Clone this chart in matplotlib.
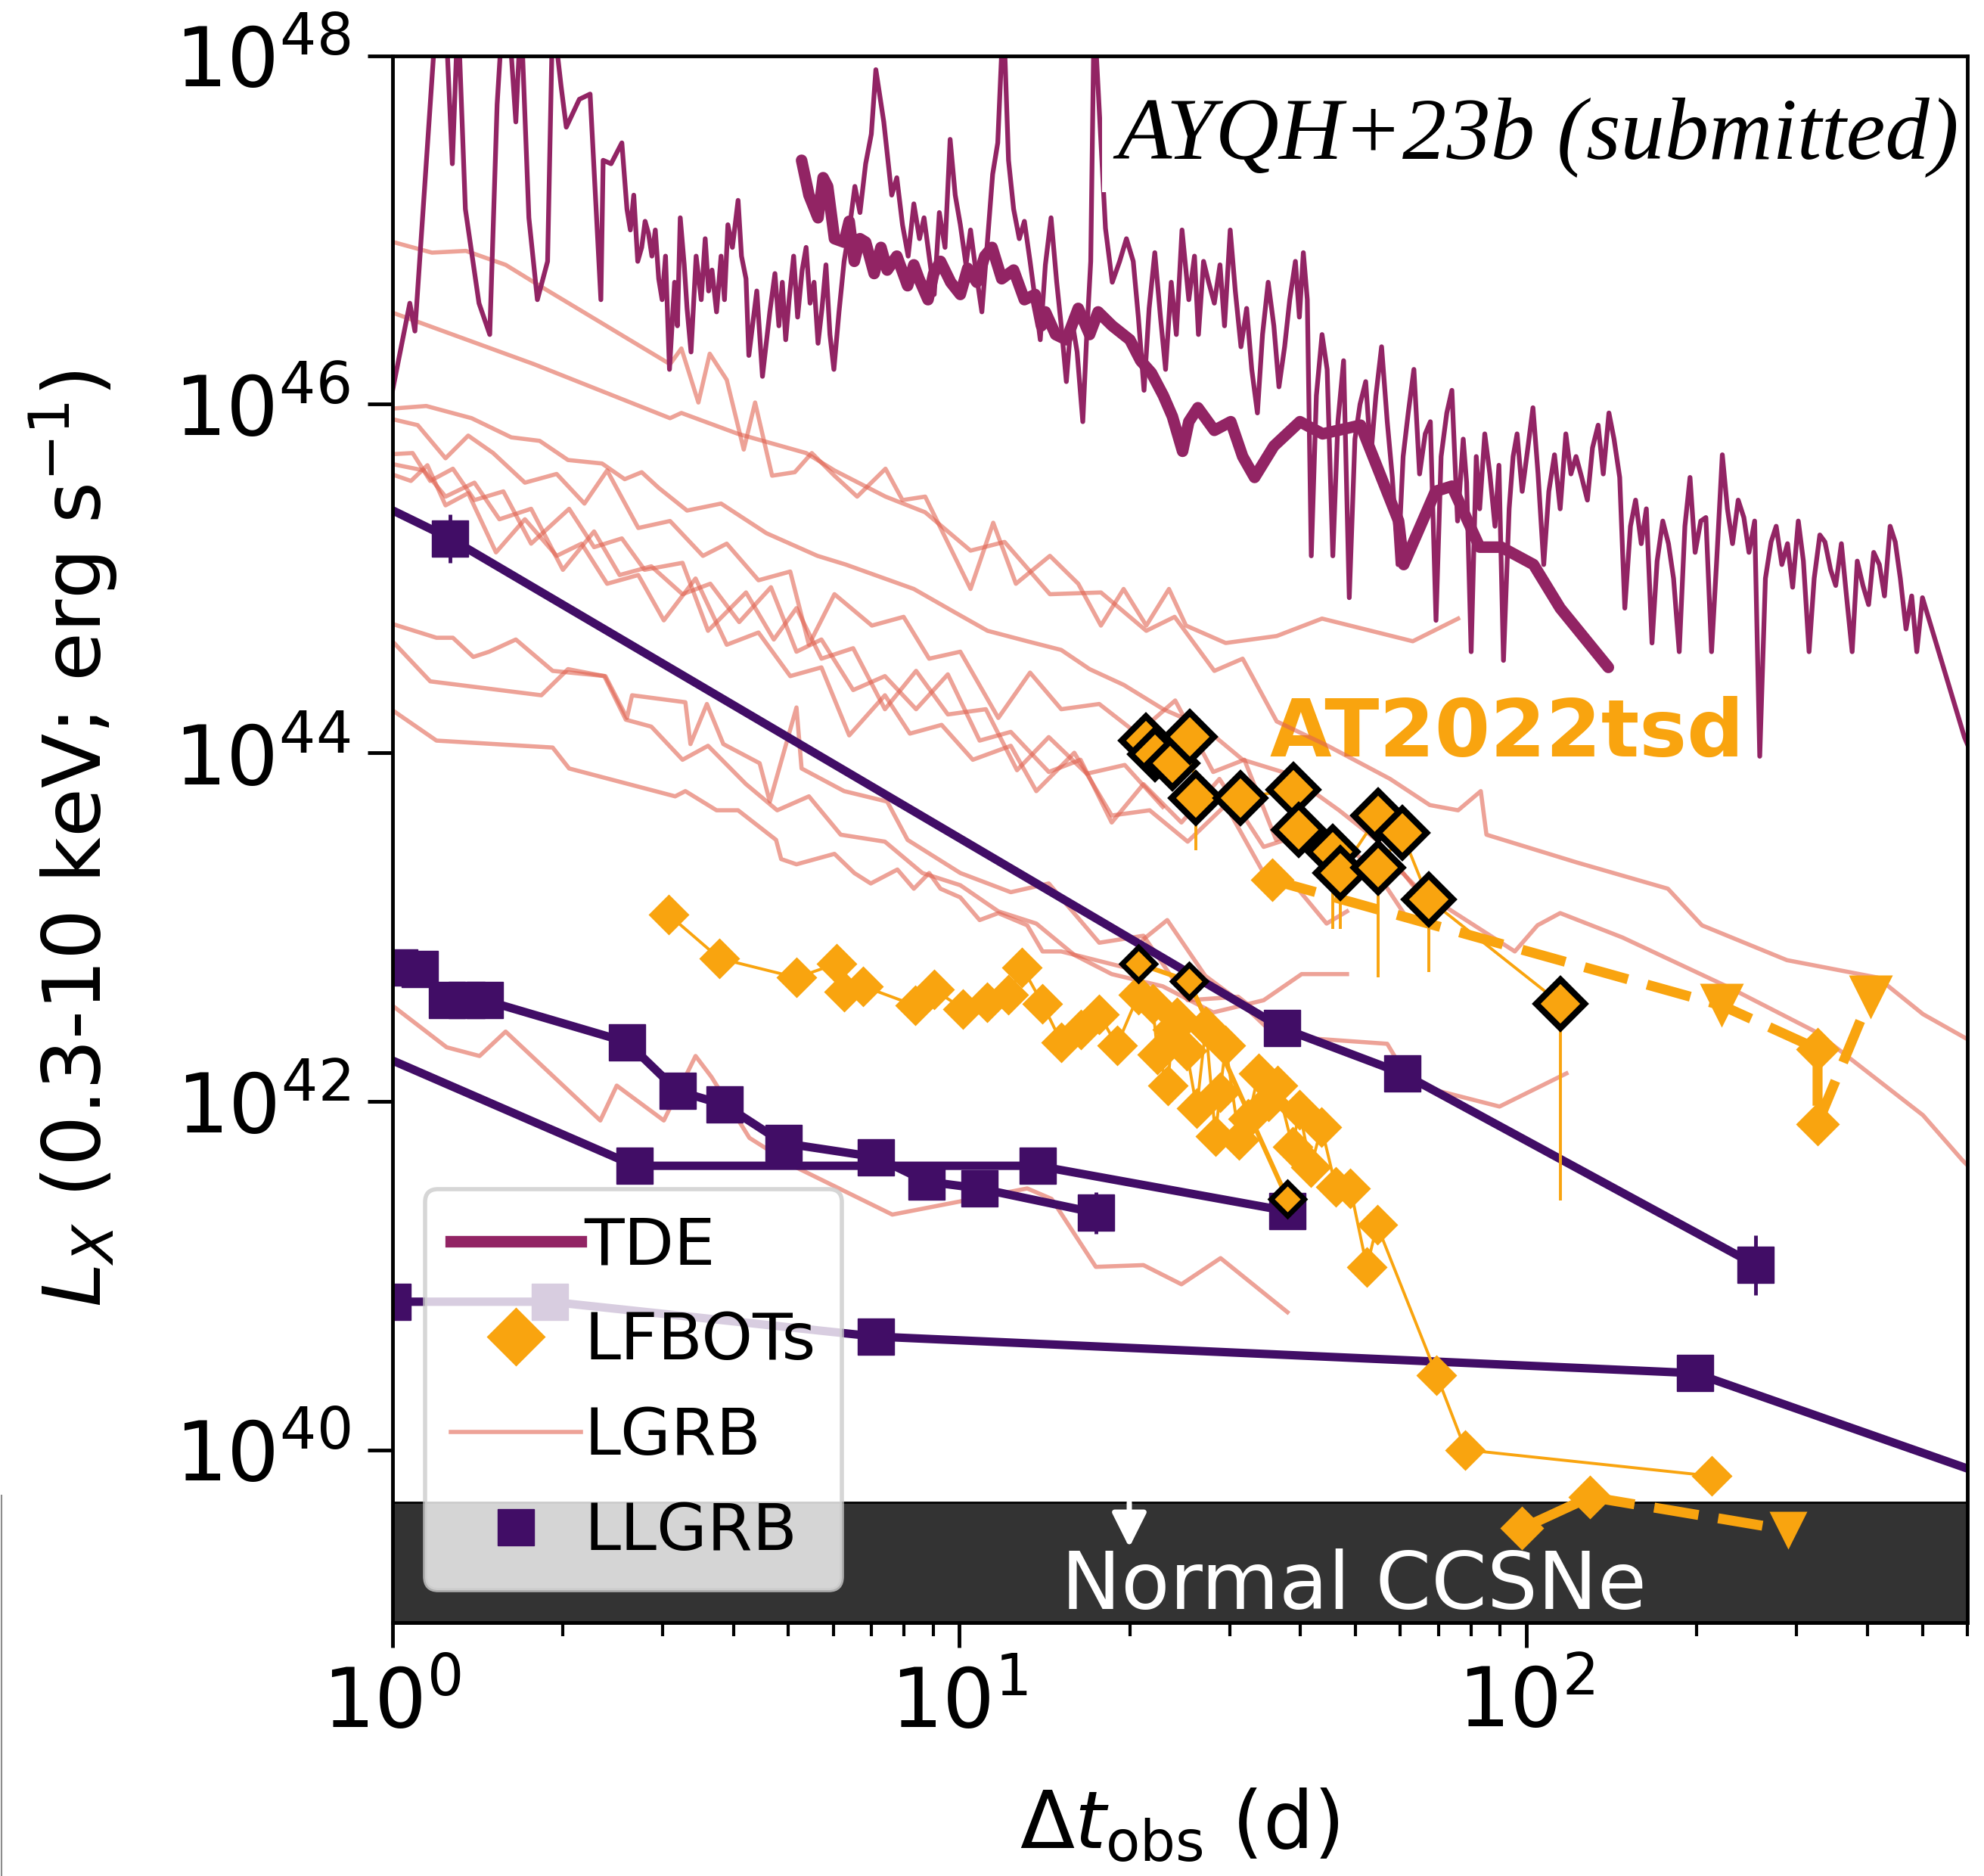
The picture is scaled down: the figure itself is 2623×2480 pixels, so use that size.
import numpy as np
import matplotlib.pyplot as plt
from matplotlib.lines import Line2D
from matplotlib.ticker import NullLocator

# colours for each transient class
c_tde = "#922464"
c_lfbot = "#f9a40f"
c_lgrb = "#e16452"
c_llgrb = "#410d66"

# ---- TDE (log10 days, log10 erg/s) ----
tde_logt = [-0.03, 0.000, 0.031, 0.040, 0.078, 0.094, 0.106, 0.116, 0.129, 0.153, 0.172, 0.185, 0.195, 0.205,
            0.218, 0.227, 0.241, 0.256, 0.274, 0.283, 0.298, 0.307, 0.330, 0.349, 0.368, 0.372, 0.386, 0.405,
            0.414, 0.420, 0.426, 0.433, 0.440, 0.446, 0.452, 0.458, 0.464, 0.470, 0.476, 0.482, 0.489, 0.498,
            0.503, 0.508, 0.515, 0.520, 0.527, 0.536, 0.545, 0.552, 0.558, 0.564, 0.572, 0.580, 0.586, 0.592,
            0.600, 0.610, 0.616, 0.624, 0.629, 0.643, 0.653, 0.666, 0.675, 0.682, 0.688, 0.694, 0.700, 0.708,
            0.715, 0.723, 0.730, 0.737, 0.744, 0.751, 0.758, 0.765, 0.772, 0.779, 0.788, 0.797, 0.806, 0.816,
            0.825, 0.835, 0.845, 0.853, 0.867, 0.881, 0.890, 0.900, 0.910, 0.920, 0.930, 0.938, 0.947, 0.956,
            0.965, 0.975, 0.984, 0.993, 1.002, 1.012, 1.020, 1.030, 1.040, 1.049, 1.059, 1.068, 1.078, 1.087,
            1.096, 1.106, 1.115, 1.125, 1.134, 1.143, 1.152, 1.162, 1.172, 1.180, 1.189, 1.198, 1.208, 1.218,
            1.225, 1.232, 1.238, 1.258, 1.270, 1.283, 1.295, 1.307, 1.316, 1.326, 1.335, 1.345, 1.355, 1.364,
            1.374, 1.383, 1.393, 1.405, 1.415, 1.422, 1.431, 1.440, 1.450, 1.460, 1.468, 1.478, 1.487, 1.497,
            1.507, 1.516, 1.526, 1.535, 1.545, 1.555, 1.564, 1.574, 1.583, 1.593, 1.600, 1.607, 1.614, 1.621,
            1.630, 1.640, 1.649, 1.659, 1.668, 1.678, 1.688, 1.698, 1.707, 1.717, 1.726, 1.735, 1.745, 1.755,
            1.764, 1.774, 1.783, 1.792, 1.802, 1.812, 1.822, 1.831, 1.841, 1.850, 1.860, 1.869, 1.879, 1.889,
            1.895, 1.903, 1.912, 1.918, 1.927, 1.936, 1.945, 1.952, 1.960, 1.970, 1.977, 1.984, 1.993, 2.003,
            2.012, 2.021, 2.031, 2.040, 2.050, 2.060, 2.070, 2.079, 2.088, 2.098, 2.108, 2.117, 2.127, 2.136,
            2.146, 2.155, 2.165, 2.174, 2.184, 2.193, 2.203, 2.212, 2.222, 2.231, 2.241, 2.251, 2.260, 2.270,
            2.280, 2.289, 2.298, 2.308, 2.317, 2.327, 2.336, 2.346, 2.355, 2.364, 2.374, 2.384, 2.393, 2.403,
            2.412, 2.422, 2.432, 2.441, 2.451, 2.461, 2.470, 2.480, 2.489, 2.499, 2.508, 2.518, 2.527, 2.537,
            2.546, 2.556, 2.565, 2.575, 2.584, 2.594, 2.604, 2.613, 2.623, 2.632, 2.642, 2.651, 2.660, 2.670,
            2.680, 2.689, 2.699, 2.773, 2.817]
tde_logL = [45.82, 46.07, 46.58, 46.42, 48.25, 48.25, 47.38, 48.25, 47.12, 46.58, 46.40, 47.72, 48.25, 48.25,
            47.62, 48.25, 47.07, 46.60, 46.82, 48.25, 47.82, 47.59, 47.75, 47.78, 46.60, 47.40, 47.38, 47.50,
            47.12, 47.00, 47.20, 46.82, 46.90, 47.05, 46.98, 46.85, 47.00, 46.72, 46.60, 46.85, 46.20, 46.70,
            46.45, 47.07, 46.80, 46.55, 46.30, 46.85, 46.60, 46.95, 46.65, 46.77, 46.53, 46.85, 46.60, 47.03,
            46.90, 47.17, 46.85, 46.72, 46.28, 46.65, 46.16, 46.53, 46.75, 46.45, 46.70, 46.37, 46.60, 46.85,
            46.50, 46.77, 46.90, 46.58, 46.70, 46.35, 46.55, 46.80, 46.40, 46.20, 46.53, 46.82, 47.00, 47.25,
            47.10, 47.38, 47.55, 47.92, 47.62, 47.20, 47.30, 47.03, 46.85, 47.15, 46.95, 47.07, 46.85, 46.63,
            47.10, 46.90, 47.52, 47.20, 47.03, 46.80, 47.00, 46.75, 46.53, 46.90, 47.32, 47.50, 48.25, 47.40,
            47.12, 46.95, 47.05, 46.82, 46.60, 46.37, 46.80, 47.07, 46.70, 46.45, 46.13, 46.50, 46.30, 45.90,
            46.40, 46.82, 48.25, 47.01, 46.70, 46.82, 46.95, 46.82, 46.50, 46.08, 46.55, 46.87, 46.50, 46.20,
            46.70, 46.40, 47.00, 46.60, 46.85, 46.40, 46.82, 46.70, 46.58, 46.80, 46.45, 47.00, 46.65, 46.33,
            46.55, 46.20, 45.95, 46.40, 46.70, 46.45, 46.10, 46.33, 46.60, 46.82, 46.50, 46.87, 46.60, 45.13,
            46.05, 46.40, 46.20, 45.13, 45.90, 46.25, 44.89, 45.80, 46.00, 46.13, 45.70, 46.05, 46.33, 45.90,
            45.58, 45.08, 45.70, 45.95, 46.20, 45.60, 45.83, 45.90, 44.76, 45.70, 45.95, 46.08, 45.33, 45.80,
            45.55, 44.58, 45.70, 45.40, 45.83, 45.60, 45.30, 45.65, 44.53, 45.40, 45.70, 45.83, 45.50, 45.75,
            45.98, 45.60, 45.08, 45.50, 45.71, 45.40, 45.83, 45.60, 45.70, 45.58, 45.45, 45.75, 45.88, 45.60,
            45.95, 45.80, 45.58, 44.83, 45.30, 45.45, 45.20, 45.40, 44.63, 45.10, 45.33, 45.20, 45.00, 44.58,
            45.30, 45.58, 45.15, 45.33, 45.35, 44.58, 45.10, 45.71, 45.40, 45.20, 45.45, 45.35, 45.15, 45.33,
            43.98, 45.00, 45.21, 45.30, 45.08, 45.20, 44.95, 45.33, 45.10, 44.58, 45.00, 45.25, 45.21, 45.05,
            44.96, 45.20, 44.90, 44.58, 45.10, 44.96, 44.85, 45.15, 45.08, 44.90, 45.30, 45.21, 45.00, 44.71,
            44.90, 44.58, 44.89, 44.09, 43.75]

tde_binned_logt = [0.722, 0.735, 0.751, 0.760, 0.768, 0.780, 0.797, 0.806, 0.815, 0.825, 0.835, 0.850, 0.862,
                   0.873, 0.890, 0.909, 0.920, 0.929, 0.945, 0.955, 0.967, 0.985, 1.002, 1.015, 1.031, 1.045,
                   1.058, 1.075, 1.096, 1.115, 1.134, 1.145, 1.152, 1.170, 1.189, 1.210, 1.230, 1.245, 1.270,
                   1.301, 1.320, 1.339, 1.360, 1.376, 1.394, 1.405, 1.421, 1.450, 1.479, 1.500, 1.521, 1.555,
                   1.601, 1.641, 1.708, 1.775, 1.784, 1.840, 1.869, 1.918, 1.956, 2.013, 2.060, 2.145]
tde_binned_logL = [47.40, 47.20, 47.07, 47.30, 47.25, 46.95, 46.93, 47.05, 46.82, 46.95, 46.93, 46.75, 46.90,
                   46.77, 46.85, 46.68, 46.80, 46.72, 46.60, 46.75, 46.82, 46.70, 46.63, 46.78, 46.70, 46.85,
                   46.90, 46.72, 46.77, 46.60, 46.63, 46.45, 46.53, 46.40, 46.37, 46.55, 46.40, 46.53, 46.45,
                   46.37, 46.25, 46.18, 46.05, 45.93, 45.73, 45.90, 45.98, 45.85, 45.90, 45.70, 45.58, 45.76,
                   45.90, 45.83, 45.88, 45.33, 45.08, 45.50, 45.53, 45.18, 45.18, 45.08, 44.83, 44.49]

# ---- LGRB afterglows ----
lgrb_logt = [
    [-0.02, 0.07, 0.13, 0.20, 0.26, 0.49, 0.51, 0.54, 0.56, 0.59, 0.62, 0.64, 0.67, 0.71, 0.74, 0.78, 0.82, 0.87,
     0.90, 0.94, 1.02, 1.06, 1.10, 1.16, 1.21, 1.25, 1.29, 1.33, 1.37, 1.40, 1.47, 1.56, 1.64, 1.80, 1.88],
    [-0.02, 0.25, 0.49, 0.51, 0.61, 0.73, 0.78, 0.87, 0.94, 1.02, 1.08, 1.16, 1.25, 1.33, 1.38, 1.45, 1.50, 1.56,
     1.65, 1.76, 1.83, 1.88, 1.92, 1.93, 2.09, 2.25, 2.31, 2.46, 2.62, 2.70, 2.82],
    [-0.02, 0.06, 0.14, 0.21, 0.26, 0.31, 0.37, 0.41, 0.44, 0.47, 0.52, 0.58, 0.66, 0.75, 0.80, 0.86, 0.92, 0.99,
     1.05, 1.12, 1.18, 1.23, 1.29, 1.36, 1.43, 1.50, 1.58, 1.67, 1.74, 1.80, 1.87, 1.98, 2.02, 2.06, 2.17, 2.36,
     2.51, 2.55, 2.70, 2.77, 2.82],
    [-0.02, 0.045, 0.094, 0.134, 0.178, 0.234, 0.290, 0.339, 0.379, 0.434, 0.490, 0.548, 0.590, 0.646, 0.702,
     0.735, 0.780, 0.846, 0.902, 0.947, 1.002, 1.069, 1.125, 1.180, 1.247, 1.314, 1.381, 1.448, 1.503, 1.559,
     1.626, 1.715, 1.782, 1.849],
    [-0.02, 0.036, 0.067, 0.107, 0.145, 0.196, 0.245, 0.312, 0.356, 0.405, 0.445, 0.512, 0.557, 0.624, 0.673,
     0.713, 0.757, 0.813, 0.869, 0.924, 0.980, 1.047, 1.102, 1.158, 1.225, 1.292, 1.359],
    [-0.02, 0.056, 0.094, 0.145, 0.189, 0.245, 0.301, 0.356, 0.401, 0.457, 0.512, 0.561, 0.612, 0.668, 0.713,
     0.757, 0.813, 0.869, 0.924, 0.980, 1.036, 1.091, 1.158, 1.214, 1.269, 1.325, 1.392, 1.459, 1.537, 1.604,
     1.670, 1.737, 1.782],
    [-0.02, 0.033, 0.062, 0.094, 0.134, 0.183, 0.234, 0.290, 0.334, 0.379, 0.434, 0.479, 0.535, 0.590, 0.646,
     0.702, 0.757, 0.806, 0.869, 0.913, 0.969, 1.024, 1.091, 1.136, 1.203, 1.269, 1.336, 1.403, 1.470, 1.537,
     1.592, 1.648, 1.684],
    [-0.02, 0.078, 0.107, 0.143, 0.171, 0.218, 0.283, 0.376, 0.414, 0.423, 0.517, 0.526, 0.555, 0.584, 0.648,
     0.666, 0.713, 0.722, 0.797, 0.873, 0.909, 1.002, 1.091, 1.158, 1.247, 1.325, 1.403, 1.492, 1.581, 1.755,
     1.797, 1.953, 2.071],
    [-0.02, 0.067, 0.263, 0.310, 0.374, 0.412, 0.457, 0.512, 0.557, 0.624, 0.679, 0.735, 0.791, 0.869, 0.935,
     1.002, 1.069, 1.136, 1.203, 1.269, 1.359, 1.448, 1.537, 1.604, 1.684],
    [-0.02, 0.078, 0.283, 0.312, 0.499, 0.517, 0.572, 0.610, 0.677, 0.686, 0.713, 0.780, 0.815, 0.844, 0.891,
     0.920, 0.947, 0.967, 1.002, 1.036, 1.069, 1.120, 1.147, 1.180, 1.290, 1.325, 1.367, 1.434, 1.492, 1.537],
    [-0.02, 0.096, 0.154, 0.200, 0.367, 0.396, 0.479, 0.535, 0.563, 0.630, 0.713, 0.882, 1.120, 1.163, 1.241,
     1.325, 1.392, 1.461, 1.579],
]
lgrb_logL = [
    [46.95, 46.87, 46.88, 46.80, 46.68, 46.23, 46.32, 46.01, 46.29, 46.14, 45.74, 46.01, 45.59, 45.61, 45.72,
     45.59, 45.47, 45.63, 45.45, 45.47, 44.94, 45.32, 44.97, 45.13, 44.97, 44.73, 44.94, 44.73, 44.94, 44.73,
     44.63, 44.67, 44.77, 44.64, 44.77],
    [46.55, 46.23, 45.92, 45.95, 45.83, 45.72, 45.62, 45.47, 45.38, 45.16, 45.21, 44.91, 44.92, 44.70, 44.78,
     44.47, 44.54, 44.18, 44.04, 43.85, 43.70, 43.67, 43.78, 43.53, 43.37, 43.22, 43.01, 42.81, 42.71, 42.50,
     42.28],
    [45.97, 45.99, 45.92, 45.81, 45.79, 45.68, 45.66, 45.57, 45.61, 45.52, 45.39, 45.43, 45.26, 45.13, 45.08,
     45.01, 44.94, 44.81, 44.70, 44.64, 44.59, 44.48, 44.39, 44.25, 44.15, 43.96, 43.88, 43.67, 43.49, 43.24,
     43.09, 42.86, 43.01, 43.08, 42.94, 42.65, 42.40, 42.30, 41.92, 41.66, 41.50],
    [45.93, 45.88, 45.69, 45.82, 45.72, 45.55, 45.60, 45.43, 45.62, 45.29, 45.33, 45.13, 45.20, 44.99, 45.04,
     44.62, 44.91, 44.73, 44.78, 44.54, 44.58, 44.20, 44.46, 44.25, 44.28, 44.11, 44.30, 43.89, 43.96, 43.50,
     43.60, 43.38, 43.31, 43.09],
    [45.71, 45.72, 45.56, 45.63, 45.45, 45.50, 45.20, 45.40, 45.18, 45.23, 45.05, 45.09, 44.70, 44.92, 44.65,
     44.83, 44.54, 44.60, 44.25, 44.47, 44.22, 44.25, 43.90, 44.09, 43.88, 43.93, 43.69],
    [45.67, 45.62, 45.47, 45.55, 45.34, 45.40, 45.05, 45.27, 45.02, 45.07, 44.91, 44.97, 44.75, 44.95, 44.58,
     44.65, 44.36, 44.44, 44.25, 44.45, 44.07, 44.12, 43.89, 43.96, 43.60, 43.82, 43.60, 43.85, 43.46, 43.53,
     43.24, 43.31, 43.09],
    [45.62, 45.56, 45.65, 45.42, 45.49, 45.15, 45.34, 45.13, 45.20, 44.97, 45.02, 44.76, 45.00, 44.62, 44.69,
     44.44, 44.49, 44.10, 44.33, 44.11, 44.16, 43.96, 44.04, 43.78, 44.00, 43.64, 43.67, 43.49, 43.70, 43.31,
     43.24, 43.02, 43.09],
    [44.76, 44.66, 44.66, 44.55, 44.58, 44.65, 44.47, 44.44, 44.20, 44.33, 44.29, 44.05, 44.28, 44.05, 43.94,
     43.72, 44.26, 43.91, 43.78, 43.72, 43.50, 43.31, 43.20, 43.25, 42.91, 42.95, 42.58, 42.60, 42.37, 42.33,
     42.10, 41.97, 42.16],
    [44.71, 44.41, 44.33, 44.48, 44.44, 44.19, 44.15, 43.96, 44.04, 43.82, 43.67, 43.75, 43.53, 43.49, 43.31,
     43.24, 43.09, 43.02, 42.84, 42.73, 42.66, 42.51, 42.58, 42.73, 42.73],
    [44.29, 44.07, 44.03, 43.91, 43.75, 43.78, 43.67, 43.67, 43.50, 43.39, 43.36, 43.42, 43.31, 43.25, 43.33,
     43.22, 43.31, 43.22, 43.17, 43.04, 43.08, 43.01, 42.86, 42.86, 42.77, 42.93, 43.04, 42.72, 42.58, 42.44],
    [42.60, 42.31, 42.26, 42.40, 41.89, 42.09, 41.89, 42.26, 42.14, 41.79, 41.62, 41.35, 41.50, 41.44, 41.05,
     41.06, 40.95, 41.10, 40.79],
]

# ---- LLGRBs ----
llgrb_logt = [
    [-0.301, 0.102, 1.570, 1.782, 2.405],
    [0.013, 0.049, 0.096, 0.131, 0.163, 0.414, 0.503, 0.586, 0.690, 0.853, 0.942, 1.036, 1.241],
    [0.000, 0.278, 0.853, 2.298, 3.000],
    [-0.301, 0.428, 1.138, 1.579],
]
llgrb_logL = [
    [45.87, 45.23, 42.42, 42.16, 41.06],
    [42.77, 42.76, 42.58, 42.58, 42.58, 42.34, 42.06, 41.98, 41.76, 41.68, 41.54, 41.50, 41.36],
    [40.85, 40.85, 40.65, 40.44, 39.64],
    [42.66, 41.63, 41.63, 41.37],
]
llgrb_err = [
    [0.0, 0.14, 0.0, 0.0, 0.17],
    [0.0, 0.0, 0.0, 0.0, 0.0, 0.10, 0.10, 0.10, 0.0, 0.08, 0.10, 0.0, 0.12],
    [0.0, 0.0, 0.0, 0.0, 0.0],
    [0.0, 0.0, 0.08, 0.0],
]

# ---- LFBOTs ----
cow_logt = [0.488, 0.577, 0.713, 0.784, 0.797, 0.831, 0.922, 0.956, 1.007, 1.049, 1.087, 1.111, 1.147, 1.180,
            1.214, 1.247, 1.278, 1.316, 1.341, 1.350, 1.368, 1.376, 1.384, 1.401, 1.419, 1.435, 1.452, 1.460,
            1.470, 1.494, 1.510, 1.528, 1.546, 1.561, 1.588, 1.600, 1.620, 1.639, 1.664, 1.690, 1.719, 1.737,
            1.842, 1.893, 2.327]
cow_logL = [43.07, 42.82, 42.71, 42.79, 42.63, 42.66, 42.55, 42.64, 42.53, 42.57, 42.61, 42.77, 42.56, 42.34,
            42.41, 42.50, 42.32, 42.61, 42.56, 42.27, 42.09, 42.41, 42.48, 42.29, 41.96, 42.43, 41.80, 42.05,
            42.32, 41.78, 41.90, 42.16, 42.00, 42.09, 41.74, 41.95, 41.62, 41.85, 41.51, 41.50, 41.05, 41.29,
            40.43, 40.00, 39.85]

edged_logt = [1.316, 1.405, 1.579]
edged_logL = [42.79, 42.69, 41.44]

tsd_logt = [1.329, 1.345, 1.376, 1.407, 1.418, 1.496, 1.589, 1.599, 1.659, 1.672, 1.739, 1.739, 1.781, 1.828, 2.061]
tsd_logL = [44.07, 43.99, 43.94, 44.09, 43.74, 43.74, 43.79, 43.56, 43.43, 43.31, 43.64, 43.34, 43.54, 43.16, 42.56]
tsd_low = [np.nan, np.nan, np.nan, np.nan, 43.44, np.nan, np.nan, np.nan, 42.99, 42.99, np.nan, 42.71, np.nan,
           42.74, 41.43]

late_logt = [1.552, 2.345, 2.514, 2.514, 2.607]
late_logL = [43.27, 42.55, 42.30, 41.87, 42.60]
late_marker = ["D", "v", "D", "D", "v"]

faint_logt = [1.993, 2.113, 2.462]
faint_logL = [39.55, 39.73, 39.54]
faint_marker = ["D", "D", "v"]

ccsn_limit = 5e39


def lin(v):
    return 10 ** np.asarray(v, dtype=float)


fig = plt.figure(figsize=(26.23, 24.80), dpi=100)
ax = fig.add_axes([0.1977, 0.1352, 0.7939, 0.8351])
ax.set_xscale("log")
ax.set_yscale("log")

# normal core-collapse SNe sit below this band
ax.axhspan(1e38, ccsn_limit, facecolor="#333333", edgecolor="black", lw=2, zorder=1)
ax.text(10 ** 1.180, 10 ** 39.085, "Normal CCSNe", color="white", fontsize=76, ha="left", va="baseline", zorder=1.2)
ax.annotate("", xy=(10 ** 1.300, 10 ** 39.44), xytext=(10 ** 1.300, ccsn_limit),
            arrowprops=dict(arrowstyle="-|>", color="white", lw=5, mutation_scale=70, shrinkA=0, shrinkB=0),
            zorder=1.2)

for t, l in zip(lgrb_logt, lgrb_logL):
    ax.plot(lin(t), lin(l), color=c_lgrb, lw=4, alpha=0.6, zorder=2)

ax.plot(lin(tde_logt), lin(tde_logL), color=c_tde, lw=4.5, zorder=2.1)
ax.plot(lin(tde_binned_logt), lin(tde_binned_logL), color=c_tde, lw=11, solid_capstyle="round",
        solid_joinstyle="round", zorder=2.2)

for t, l, e in zip(llgrb_logt, llgrb_logL, llgrb_err):
    l = np.asarray(l)
    e = np.asarray(e)
    yerr = [lin(l) - lin(l - e), lin(l + e) - lin(l)]
    ax.errorbar(lin(t), lin(l), yerr=yerr, fmt="-s", color=c_llgrb, ms=34, lw=8, elinewidth=3.5, capsize=0,
                zorder=3)

ax.plot(lin(cow_logt), lin(cow_logL), "-D", color=c_lfbot, ms=27, mec="none", lw=2.8, zorder=4)
ax.plot(lin(edged_logt), lin(edged_logL), "-D", color=c_lfbot, ms=22, mec="black", mew=5, lw=4.5, zorder=5)

ax.plot(lin(late_logt), lin(late_logL), color=c_lfbot, lw=9.5, ls=(0, (4.5, 2.0)), zorder=4.5)
for m in set(late_marker):
    idx = [i for i, mm in enumerate(late_marker) if mm == m]
    ax.plot(lin([late_logt[i] for i in idx]), lin([late_logL[i] for i in idx]), ls="none", marker=m,
            ms=30 if m == "D" else 42, color=c_lfbot, mec="none", zorder=4.6)

ax.plot(lin(faint_logt[:2]), lin(faint_logL[:2]), color=c_lfbot, lw=9.5, zorder=4.5)
ax.plot(lin(faint_logt[1:]), lin(faint_logL[1:]), color=c_lfbot, lw=9.5, ls=(0, (4.5, 2.0)), zorder=4.5)
for m in set(faint_marker):
    idx = [i for i, mm in enumerate(faint_marker) if mm == m]
    ax.plot(lin([faint_logt[i] for i in idx]), lin([faint_logL[i] for i in idx]), ls="none", marker=m,
            ms=30 if m == "D" else 36, color=c_lfbot, mec="none", zorder=4.6)

tsd_L = lin(tsd_logL)
tsd_lo = np.where(np.isnan(tsd_low), 0.0, tsd_L - lin(np.nan_to_num(tsd_low, nan=0.0)))
ax.errorbar(lin(tsd_logt), tsd_L, yerr=[tsd_lo, np.zeros_like(tsd_L)], fmt="-D", color=c_lfbot, ms=33,
            mec="black", mew=6, lw=2.8, elinewidth=2.8, capsize=0, zorder=6)
ax.text(10 ** 1.548, 10 ** 43.978, "AT2022tsd", color=c_lfbot, fontsize=76, fontweight="bold",
        ha="left", va="baseline", zorder=1.5)

ax.text(0.9947, 0.9346, "AYQH+23b (submitted)", transform=ax.transAxes, ha="right", va="baseline",
        fontsize=84, fontstyle="italic", family="Liberation Serif",
        bbox=dict(facecolor="white", edgecolor="none", pad=14), zorder=2.4)

ax.set_xlim(1, 600)
ax.set_ylim(10 ** 39.01, 1e48)
ax.set_yticks([1e40, 1e42, 1e44, 1e46, 1e48])
ax.yaxis.set_minor_locator(NullLocator())
ax.tick_params(which="major", length=24, width=3.5, labelsize=78, pad=16)
ax.tick_params(which="minor", length=13, width=3)
for s in ax.spines.values():
    s.set_linewidth(3.5)
    s.set_zorder(5)

ax.set_xlabel(r"$\Delta t_{\rm obs}$ (d)", fontsize=76)
ax.xaxis.set_label_coords(0.5, -0.105)
ax.set_ylabel(r"$L_X$ (0.3-10 keV; erg s$^{-1}$)", fontsize=76)
ax.yaxis.set_label_coords(-0.173, 0.5)

handles = [
    Line2D([], [], color=c_tde, lw=11),
    Line2D([], [], color=c_lfbot, marker="D", ls="none", ms=40, mec="none"),
    Line2D([], [], color=c_lgrb, lw=4, alpha=0.6),
    Line2D([], [], color=c_llgrb, marker="s", ls="none", ms=34),
]
leg = ax.legend(handles, ["TDE", "LFBOTs", "LGRB", "LLGRB"], loc="lower left", fontsize=62,
                handlelength=2.0, handletextpad=0.05, labelspacing=0.5, borderpad=0.4,
                framealpha=0.8, fancybox=True, edgecolor="0.8")
leg.get_frame().set_linewidth(4)
leg.set_zorder(10)

fig.add_artist(Line2D([0.0008, 0.0008], [0, 0.203], transform=fig.transFigure, color="0.55", lw=1.5))

fig.savefig("out.png", dpi=100)
